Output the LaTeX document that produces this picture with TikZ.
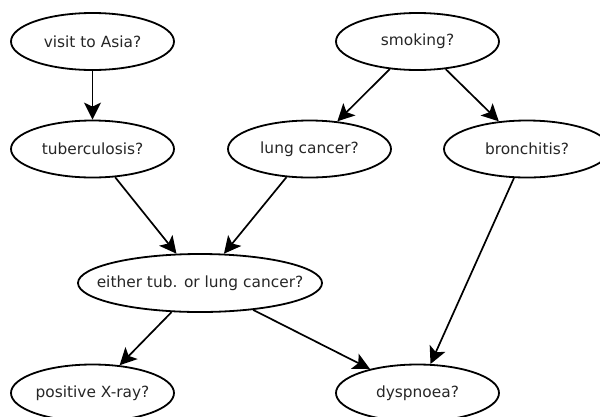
\documentclass[tikz,border=0pt]{standalone}
\usepackage{fontspec}
\setmainfont{DejaVu Sans}
\usetikzlibrary{shapes.geometric,arrows.meta}

\begin{document}
\begin{tikzpicture}[x=1bp,y=-1bp,
		var/.style={draw,ellipse,line width=1.8bp,inner ysep=0pt,inner xsep=-10bp,
			minimum width=163bp,minimum height=57bp,
			font=\fontsize{15.4bp}{18bp}\selectfont,text=black!85},
		edge/.style={-{Stealth[length=17bp,width=17bp,inset=4bp]},line width=1.7bp}]
			\useasboundingbox (0,0) rectangle (600,416);
			\node[var](asia) at(92.5,41.5){visit to Asia?};
			\node[var](smoke) at(417.5,41.5){smoking?};
			\node[var](tub) at(92.5,149){tuberculosis?};
			\node[var](lung) at(309.5,149){lung cancer?};
			\node[var,minimum width=166bp](bron) at(527,149){bronchitis?};
			\node[var,inner xsep=-22bp,minimum width=244bp,minimum height=58bp](either) at(200,283){either tub. or lung cancer?};
			\node[var](xray) at(92.5,393){positive X-ray?};
			\node[var](dysp) at(417.5,393){dyspnoea?};
			
			\draw[edge](asia) -- (tub);
			\draw[edge](smoke) -- (lung);
			\draw[edge](smoke) -- (bron);
			\draw[edge](tub) -- (either);
			\draw[edge](lung) -- (either);
			\draw[edge](bron) -- (dysp);
			\draw[edge](either) -- (xray);
			\draw[edge](either) -- (dysp);
		\end{tikzpicture}
\end{document}
